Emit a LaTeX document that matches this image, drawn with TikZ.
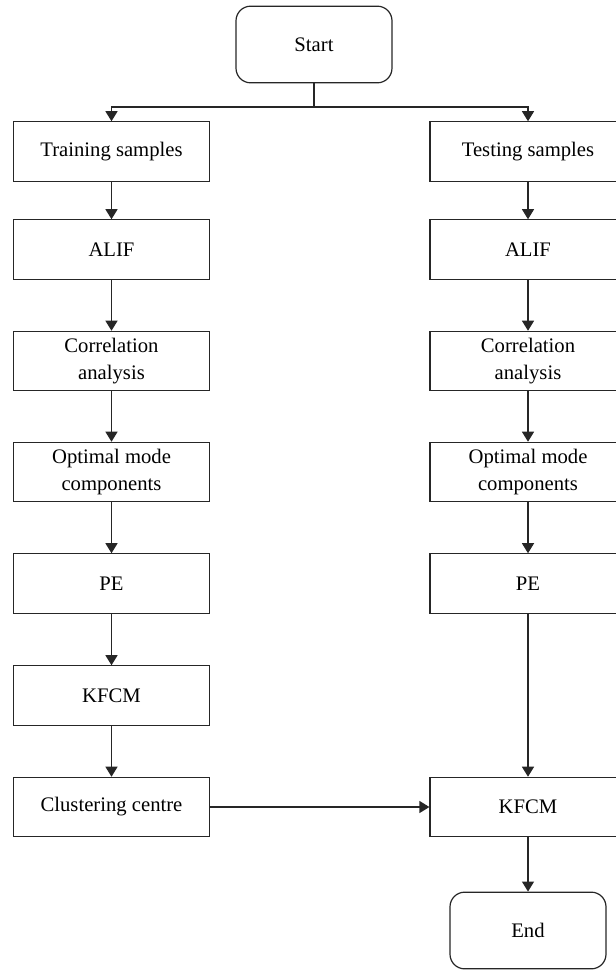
\documentclass[tikz,border=0pt]{standalone}
\usepackage{fontspec}
\setmainfont{Liberation Serif}
\usetikzlibrary{arrows.meta}

\tikzset{
  stepbox/.style={draw=black!85, line width=0.9pt, minimum width=147pt, minimum height=44.5pt, inner sep=1pt, align=center, font=\fontsize{15.5}{20}\selectfont},
  termbox/.style={stepbox, rounded corners=11pt, minimum width=117pt, minimum height=57.5pt},
  flow/.style={draw=black!85, line width=0.9pt, -{Triangle[width=9pt,length=7.5pt]}}
}

\begin{document}
\begin{tikzpicture}[x=0.75pt,y=0.75pt,yscale=-1,xscale=1]

\useasboundingbox (0,0) rectangle (616,970);

% start and the two columns
\node [termbox] (start) at (314,44.5) {Start};

\node [stepbox] (train) at (111.5,151.5) {Training samples};
\node [stepbox] (alifA) at (111.5,249.5) {ALIF};
\node [stepbox] (corrA) at (111.5,361) {Correlation\\analysis};
\node [stepbox] (optA) at (111.5,472) {Optimal mode\\components};
\node [stepbox] (peA) at (111.5,583.5) {PE};
\node [stepbox] (kfcmA) at (111.5,695.5) {KFCM};
\node [stepbox] (centre) at (111.5,807) {Clustering centre};

\node [stepbox] (test) at (528,151.5) {Testing samples};
\node [stepbox] (alifB) at (528,249.5) {ALIF};
\node [stepbox] (corrB) at (528,361) {Correlation\\analysis};
\node [stepbox] (optB) at (528,472) {Optimal mode\\components};
\node [stepbox] (peB) at (528,583.5) {PE};
\node [stepbox] (kfcmB) at (528,807) {KFCM};

\node [termbox] (end) at (528,930.5) {End};

% split below start
\coordinate (split) at (314,107);
\draw [draw=black!85, line width=0.9pt] (start.south) -- (split);
\draw [flow] (split) -| (train.north);
\draw [flow] (split) -| (test.north);

% training side
\draw [flow] (train) -- (alifA);
\draw [flow] (alifA) -- (corrA);
\draw [flow] (corrA) -- (optA);
\draw [flow] (optA) -- (peA);
\draw [flow] (peA) -- (kfcmA);
\draw [flow] (kfcmA) -- (centre);

% testing side
\draw [flow] (test) -- (alifB);
\draw [flow] (alifB) -- (corrB);
\draw [flow] (corrB) -- (optB);
\draw [flow] (optB) -- (peB);
\draw [flow] (peB) -- (kfcmB);

\draw [flow] (centre) -- (kfcmB);
\draw [flow] (kfcmB) -- (end);

\end{tikzpicture}
\end{document}
